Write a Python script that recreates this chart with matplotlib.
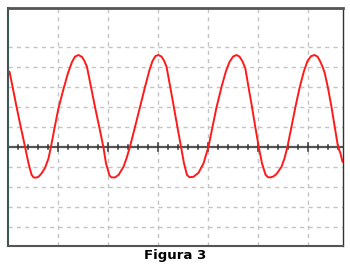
import matplotlib
matplotlib.use('Agg')
import matplotlib.pyplot as plt
import numpy as np

#-----DATA---------------------------------------------------------------------#
# Trace, in divisions (time, volts)
t_div = [0.03, 0.10, 0.17, 0.255, 0.34, 0.41, 0.47, 0.51, 0.56, 0.61, 0.67, 0.74,
         0.81, 0.86, 0.93, 1.01, 1.11, 1.20, 1.28, 1.34, 1.41, 1.48, 1.53, 1.58,
         1.66, 1.74, 1.825, 1.906, 1.96, 2.03, 2.07,
         2.14, 2.21, 2.31, 2.37, 2.44, 2.54, 2.64, 2.74, 2.83, 2.89, 2.95, 3.01,
         3.07, 3.12, 3.17, 3.245, 3.317, 3.388, 3.46, 3.52, 3.58, 3.63, 3.71, 3.81,
         3.91, 4.01, 4.09, 4.17, 4.27, 4.36, 4.43,
         4.50, 4.57, 4.63, 4.69, 4.746, 4.81, 4.88, 4.946, 5.014, 5.08, 5.15, 5.20,
         5.25, 5.31, 5.37, 5.47, 5.53, 5.59, 5.67, 5.75, 5.835, 5.92, 5.99, 6.06,
         6.13, 6.19, 6.24, 6.29, 6.334, 6.40, 6.47, 6.535, 6.60, 6.65, 6.69]
v_div = [3.77, 2.90, 2.02, 1.00, 0.02, -0.82, -1.38, -1.52, -1.53, -1.49, -1.32, -1.05,
         -0.57, 0.02, 0.94, 1.95, 2.90, 3.70, 4.25, 4.52, 4.60, 4.50, 4.30, 4.00,
         3.00, 2.00, 1.00, 0.02, -0.82, -1.42, -1.52,
         -1.52, -1.40, -0.99, -0.57, 0.02, 1.00, 2.00, 3.00, 3.85, 4.30, 4.55, 4.60,
         4.52, 4.32, 4.02, 3.00, 2.00, 1.00, 0.02, -0.82, -1.40, -1.51, -1.49, -1.29,
         -0.82, 0.02, 1.00, 1.98, 3.00, 3.80, 4.25,
         4.52, 4.60, 4.52, 4.28, 3.94, 3.00, 2.00, 1.00, 0.02, -0.82, -1.38, -1.51,
         -1.52, -1.47, -1.35, -0.99, -0.57, 0.02, 1.02, 2.02, 3.00, 3.80, 4.30, 4.54,
         4.60, 4.52, 4.30, 4.02, 3.70, 2.95, 2.00, 1.00, 0.02, -0.32, -0.74]

x_grid = [1, 2, 3, 4, 5, 6]
y_grid = [-4, -3, -2, -1, 1, 2, 3, 4, 5]
x_range = [0, 6.7]
y_range = [-4.95, 6.95]
caption = 'Figura 3'

#-----FIGURE-------------------------------------------------------------------#
fig = plt.figure(figsize=(3.5, 2.67), dpi=100)
ax = fig.add_axes([8/350, 21/267, 335/350, 238/267])
ax.set_xlim(x_range)
ax.set_ylim(y_range)

# dashed graticule
for x in x_grid:
    ax.axvline(x, color='#c4c4c4', lw=1, ls=(0, (3, 3)), zorder=1)
for y in y_grid:
    ax.axhline(y, color='#c4c4c4', lw=1, ls=(0, (3, 3)), zorder=1)

# centre axis with small ticks
ax.axhline(0, color='#555555', lw=1.6, zorder=2)
minor = np.arange(0.2, x_range[1], 0.2)
for x in minor:
    h = 0.18 if abs(x - round(x)) < 0.01 else 0.1
    ax.plot([x, x], [-h, h], color='#333333', lw=1.1, zorder=2)

# trace
ax.plot(t_div, v_div, color='#ff1a1a', lw=1.4, zorder=3,
        solid_joinstyle='round', solid_capstyle='round')

ax.set_xticks([])
ax.set_yticks([])
ax.spines['top'].set_color('#555555')
ax.spines['top'].set_linewidth(2)
ax.spines['left'].set_color('#3d5656')
ax.spines['left'].set_linewidth(1.5)
ax.spines['right'].set_color('#333333')
ax.spines['right'].set_linewidth(1)
ax.spines['bottom'].set_color('#555555')
ax.spines['bottom'].set_linewidth(1.5)

fig.text(0.5, 1 - 255/267, caption, ha='center', va='center',
         fontsize=9.5, fontweight='bold')

fig.savefig('out.png', dpi=100)
